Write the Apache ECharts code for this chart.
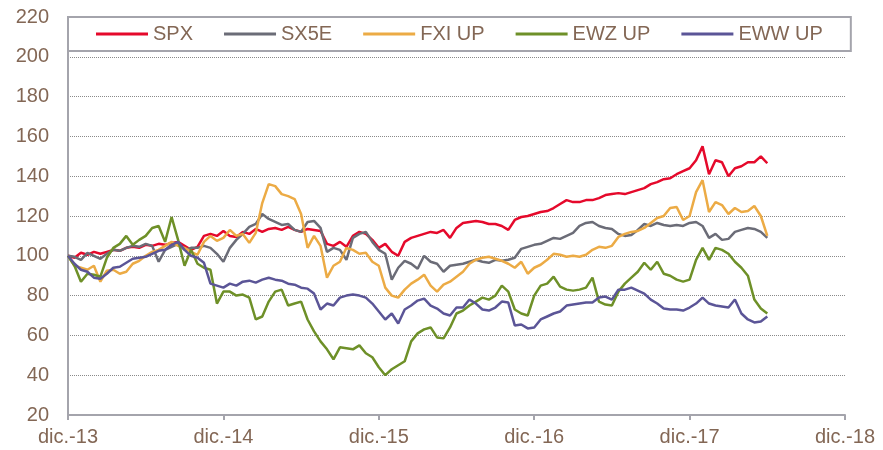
<!DOCTYPE html>
<html>
<head>
<meta charset="utf-8">
<script src="https://cdn.jsdelivr.net/npm/echarts@6/dist/echarts.min.js"></script>
<style>
  html, body { margin: 0; padding: 0; background: #fff; }
  #chart { width: 883px; height: 450px; }
</style>
</head>
<body>
<div id="chart"></div>
<script>
// etiquetas del eje X (un tick por año, diciembre)
const xLabels = ['dic.-13', 'dic.-14', 'dic.-15', 'dic.-16', 'dic.-17', 'dic.-18'];

// series cada medio mes desde dic.-13 (base 100)
const spx = [
  100, 99, 101.5, 100.5, 102, 101, 102, 103, 102.5, 104,
  104.5, 104, 105.5, 105, 106, 105.5, 106.5, 107, 105, 103,
  104.5, 110, 111, 110, 112.5, 110, 109.5, 112, 111, 113.5,
  112, 113.5, 114, 113, 114.5, 113, 112, 113.5, 113, 112.5,
  106, 105, 107, 104.5, 110, 112, 111, 108, 104, 106,
  102, 100, 107, 109, 110, 111, 112, 111.5, 113, 109,
  114, 116.5, 117, 117.5, 117, 116, 116, 115, 113, 118,
  119.5, 120, 121, 122, 122.5, 124, 126, 128, 127, 127,
  128, 128, 129, 130.5, 131, 131.5, 131, 132, 133, 134,
  136, 137, 138.5, 139, 141, 142.5, 144, 148, 155, 141,
  148, 147, 140, 144, 145, 147, 147, 150, 146.5
];
const sx5e = [
  100, 99.5, 98, 101.5, 100, 98.5, 101, 103, 102.5, 104,
  105, 104.5, 106, 105, 97, 103, 104.5, 106, 103, 104,
  104, 105, 104, 101, 97, 104, 108, 111, 114.5, 116,
  121, 118.5, 117, 115.5, 116, 113, 112, 117, 117.5, 114,
  102, 104, 103, 98, 109, 111, 112, 107, 103, 101,
  88, 94, 97.5, 96, 93.5, 100, 97, 96, 92, 95,
  95.5, 96, 97, 98, 97, 96.5, 98, 97.5, 98, 99,
  103.5, 104.5, 105.5, 106, 107.5, 109, 108.5, 110, 111.5, 115,
  116.5, 117, 115, 114, 113.5, 111, 110, 110.5, 113, 116,
  115, 116.5, 115.5, 115, 115.5, 115, 116.5, 117, 115, 109,
  111, 108, 108.5, 112, 113, 114, 113.5, 112, 109
];
const fxi = [
  100, 95, 94, 93, 95, 87, 92.5, 93, 91, 92,
  96, 97.5, 100, 102, 103, 105, 107, 105, 104, 102,
  100.5, 107, 110, 107.5, 109, 113, 110, 111, 106.5, 111.5,
  126.5, 136, 135, 131, 130, 128.5, 121, 104, 110, 105,
  89, 95, 97, 104, 103, 101, 101.5, 97, 95, 84,
  80, 79, 83, 86, 88, 90.5, 85, 82, 85.5, 87,
  89.5, 92, 96, 98, 99, 99.5, 98.5, 97.5, 96, 94,
  97, 91, 94, 95.5, 98, 101, 100.5, 99.5, 100, 99.5,
  100.5, 103, 104.5, 104, 105, 109.5, 111, 112, 112.5, 114,
  116.5, 119, 120, 124, 124.5, 118, 120, 132, 138, 122,
  127, 125.5, 121, 124, 122, 122.5, 125, 120, 110
];
const ewz = [
  100, 95, 87, 91, 90.5, 89.5, 99, 104, 106, 110,
  105.5, 108, 110, 114, 115, 107, 119.5, 108, 95, 103,
  96, 94, 93, 76, 82, 82, 80, 80.5, 79, 68,
  69.5, 77, 82, 83, 75, 76, 77, 68, 62, 57,
  53, 48, 54, 53.5, 53, 55, 51, 49, 44, 40,
  43, 45, 47, 57, 61, 63, 64, 59, 58.5, 64,
  71, 72.5, 75, 77, 79, 78, 80, 85, 82, 73,
  71, 70, 80, 85, 86, 89.5, 84.5, 83, 82.5, 83,
  84, 89, 77, 75.5, 75, 82, 86, 89, 92, 96.5,
  93, 97, 91, 90, 88, 87, 88, 98, 104, 98,
  104, 103, 101, 97, 94, 90, 78, 73.5, 71
];
const eww = [
  100, 96, 93, 92, 89, 88.5, 91, 94, 94.5, 96.5,
  98.5, 99, 99.5, 101, 102.5, 103, 105.5, 107, 103, 100,
  99, 96.5, 86, 85, 84, 86, 85, 87, 87.5, 86.5,
  88, 89, 88, 87.5, 86, 85.5, 84, 83.5, 81, 73,
  76, 75, 79, 80, 80.5, 80, 79, 76, 72, 68,
  71, 66, 73, 75, 77.5, 78.5, 75, 73.5, 71, 70,
  74, 74, 78, 76, 73, 72.5, 74, 77, 76.5, 65,
  65.5, 63.5, 64, 68, 69.5, 71, 72, 75, 75.5, 76,
  76.5, 76.5, 79, 79.5, 78, 83, 83, 84, 82.5, 81,
  78, 76, 73.5, 73, 73, 72.5, 74, 76, 79, 76,
  75, 74.5, 74, 78, 71, 68, 66.5, 67, 69.5
];

const seriesNames = ['SPX', 'SX5E', 'FXI UP', 'EWZ UP', 'EWW UP'];
const seriesData = [spx, sx5e, fxi, ewz, eww];
const seriesColors = ['#E5092B', '#6B6C77', '#ECAB45', '#6E9028', '#5B5597'];

const textColor = '#836755';
const axisColor = '#A4A4AC';
const font = '"Liberation Sans", Arial, sans-serif';

// meses desde dic.-13, paso de medio mes
const toPairs = vals => vals.map((v, i) => [i * 0.5, v]);

const chart = echarts.init(document.getElementById('chart'));

chart.setOption({
  animation: false,
  backgroundColor: '#fff',
  textStyle: { fontFamily: font },
  grid: { left: 68, right: 38, top: 17, bottom: 35 },
  legend: {
    left: 68,
    top: 17,
    padding: [7, 28, 7, 28],
    itemGap: 31,
    itemWidth: 52,
    itemHeight: 3,
    icon: 'rect',
    borderColor: axisColor,
    borderWidth: 2,
    backgroundColor: '#fff',
    textStyle: { fontSize: 20, color: textColor, fontFamily: font, padding: [0, 0, 0, 0] },
    data: seriesNames
  },
  xAxis: {
    type: 'value',
    min: 0,
    max: 60,
    interval: 12,
    axisLine: { lineStyle: { color: axisColor, width: 2 } },
    axisTick: { show: true, length: 5, lineStyle: { color: axisColor, width: 2 } },
    splitLine: { show: false },
    axisLabel: {
      fontSize: 20,
      color: textColor,
      margin: 12,
      fontFamily: font,
      formatter: v => xLabels[Math.round(v / 12)] || ''
    }
  },
  yAxis: {
    type: 'value',
    min: 20,
    max: 220,
    interval: 20,
    axisLine: { show: true, lineStyle: { color: axisColor, width: 2 } },
    axisTick: { show: false },
    splitLine: { lineStyle: { color: '#8A8A8A', type: 'dotted', width: 1 } },
    axisLabel: { fontSize: 20, color: textColor, margin: 19, fontFamily: font }
  },
  series: seriesNames.map((name, i) => ({
    name: name,
    type: 'line',
    data: toPairs(seriesData[i]),
    showSymbol: false,
    symbol: 'none',
    lineStyle: { color: seriesColors[i], width: 2.5 },
    itemStyle: { color: seriesColors[i] }
  }))
});
</script>
</body>
</html>
